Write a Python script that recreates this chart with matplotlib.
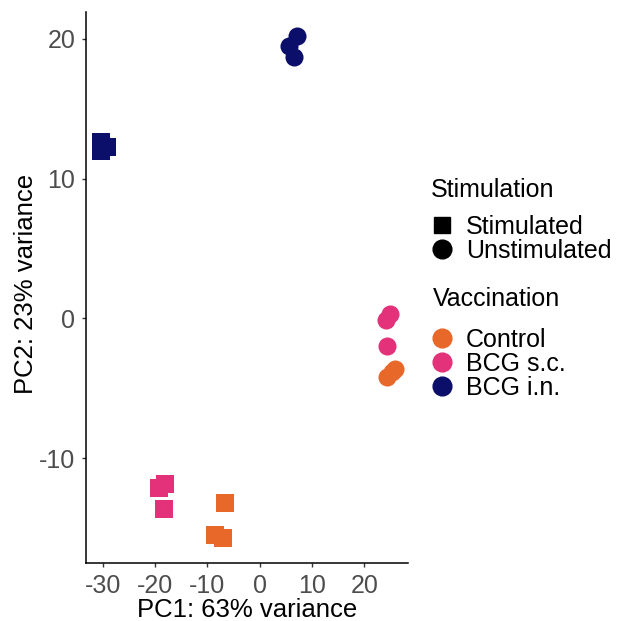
import matplotlib
matplotlib.use("Agg")
import matplotlib.pyplot as plt
from matplotlib.lines import Line2D

plt.rcParams['font.family'] = ['Liberation Sans', 'DejaVu Sans']
plt.rcParams['axes.unicode_minus'] = False

# PCA scores (3 samples per group)
control_stim_pc1 = [-6.6, -8.5, -7.0]
control_stim_pc2 = [-13.2, -15.5, -15.7]
sc_stim_pc1 = [-19.3, -18.1, -18.3]
sc_stim_pc2 = [-12.1, -11.8, -13.6]
in_stim_pc1 = [-30.3, -30.3, -29.2]
in_stim_pc2 = [12.6, 12.0, 12.25]

control_unstim_pc1 = [25.9, 25.3, 24.4]
control_unstim_pc2 = [-3.6, -3.85, -4.15]
sc_unstim_pc1 = [24.9, 24.1, 24.3]
sc_unstim_pc2 = [0.35, -0.1, -2.0]
in_unstim_pc1 = [7.2, 5.5, 6.6]
in_unstim_pc2 = [20.15, 19.5, 18.7]

vacc_labels = ["Control", "BCG s.c.", "BCG i.n."]
vacc_colors = ["#E8682A", "#E3317A", "#0C0F6A"]
stim_labels = ["Stimulated", "Unstimulated"]
stim_markers = ["s", "o"]

x_ticks = [-30, -20, -10, 0, 10, 20]
y_ticks = [-10, 0, 10, 20]

fig = plt.figure(figsize=(6.19, 6.21), dpi=100)
ax = fig.add_axes([0.1385, 0.0929, 0.5212, 0.8878])

stim_sets = [(control_stim_pc1, control_stim_pc2), (sc_stim_pc1, sc_stim_pc2), (in_stim_pc1, in_stim_pc2)]
unstim_sets = [(control_unstim_pc1, control_unstim_pc2), (sc_unstim_pc1, sc_unstim_pc2), (in_unstim_pc1, in_unstim_pc2)]

for (xs, ys), col in zip(stim_sets, vacc_colors):
    ax.scatter(xs, ys, s=169, marker="s", color=col, linewidths=0)
for (xs, ys), col in zip(unstim_sets, vacc_colors):
    ax.scatter(xs, ys, s=169, marker="o", color=col, linewidths=0)

ax.set_xlim(-33.25, 28.4)
ax.set_ylim(-17.5, 21.9)
ax.set_xticks(x_ticks)
ax.set_yticks(y_ticks)
ax.tick_params(length=3, width=1, color="#333333", labelcolor="#4D4D4D",
               labelsize=18, pad=4.5)
for side in ["top", "right"]:
    ax.spines[side].set_visible(False)
for side in ["left", "bottom"]:
    ax.spines[side].set_linewidth(1.1)
    ax.spines[side].set_color("black")

ax.set_xlabel("PC1: 63% variance", fontsize=18.5, va="center")
ax.xaxis.set_label_coords(0.501, -0.0842)
ax.set_ylabel("PC2: 23% variance", fontsize=18.5, va="center")
ax.yaxis.set_label_coords(-0.186, 0.507)

# legends
fig.text(431 / 619, 1 - 190 / 621, "Stimulation", fontsize=18, va="center", ha="left")
stim_handles = [Line2D([], [], ls="none", marker=m, color="black",
                       markersize=11.5 if m == "s" else 13.5) for m in stim_markers]
fig.legend(stim_handles, stim_labels, loc="upper left",
           bbox_to_anchor=(429 / 619, 1 - 215 / 621), frameon=False,
           fontsize=18, borderpad=0, borderaxespad=0, labelspacing=0.0,
           handlelength=1.0, handletextpad=0.48)

fig.text(433 / 619, 1 - 299 / 621, "Vaccination", fontsize=18, va="center", ha="left")
vacc_handles = [Line2D([], [], ls="none", marker="o", color=c, markersize=13.5) for c in vacc_colors]
fig.legend(vacc_handles, vacc_labels, loc="upper left",
           bbox_to_anchor=(429 / 619, 1 - 328 / 621), frameon=False,
           fontsize=18, borderpad=0, borderaxespad=0, labelspacing=0.0,
           handlelength=1.0, handletextpad=0.48)

fig.savefig("out.png", dpi=100)
